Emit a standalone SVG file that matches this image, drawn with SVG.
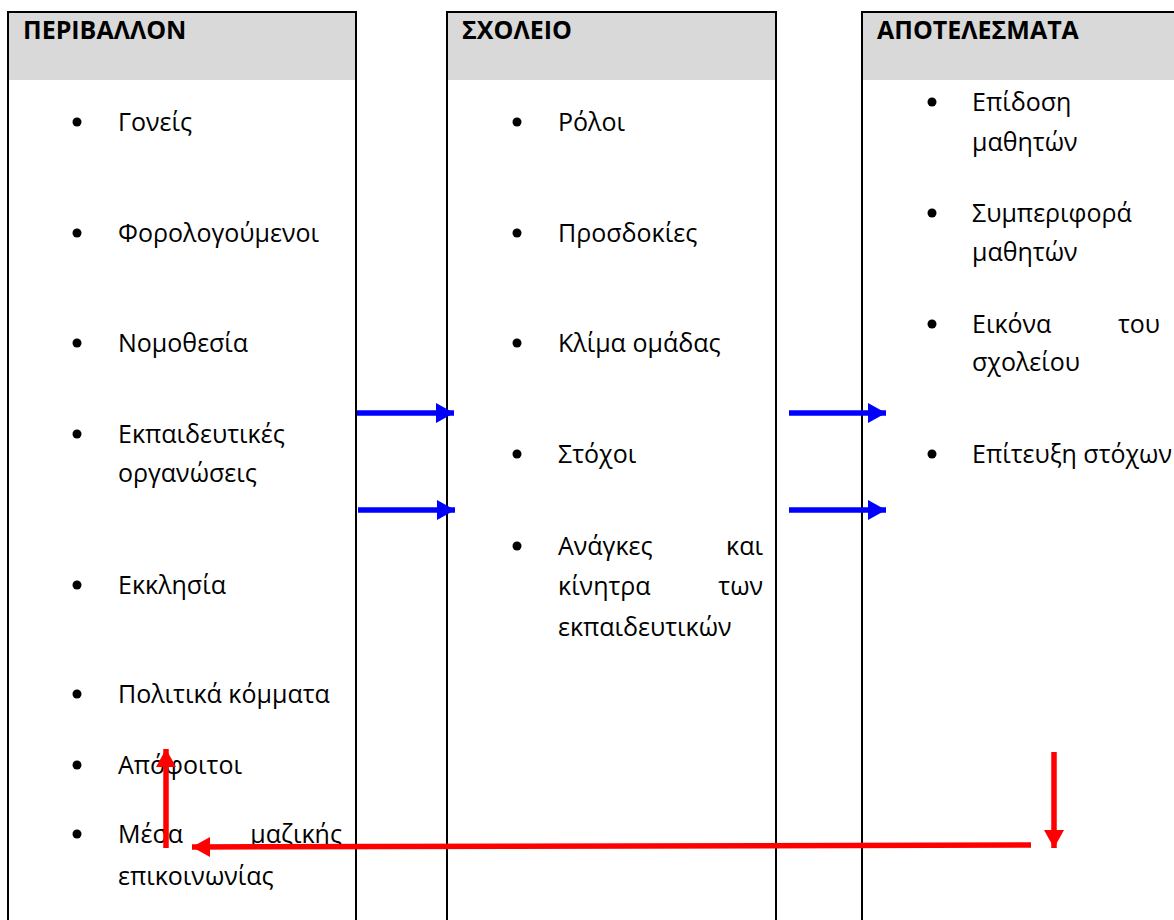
<svg xmlns="http://www.w3.org/2000/svg" width="1174" height="920" viewBox="0 0 1174 920">
<style>
.box{fill:#fff;stroke:#000;stroke-width:2}
.hd{fill:#d9d9d9}
.h{font-family:"Open Sans","Liberation Sans",sans-serif;font-weight:bold;font-size:25px;fill:#000}
.t{font-family:"Open Sans","Liberation Sans",sans-serif;font-size:25px;fill:#000}
.b{fill:#000}
.blue{stroke:#0000ff;stroke-width:5.5;fill:none}
.red{stroke:#ff0000;stroke-width:5.5;fill:none}
</style>
<defs>
<marker id="ab" markerUnits="userSpaceOnUse" markerWidth="19" markerHeight="22" refX="18" refY="11" orient="auto"><path d="M0,1 L18,11 L0,21 Z" fill="#0000ff"/></marker>
<marker id="ar" markerUnits="userSpaceOnUse" markerWidth="19" markerHeight="22" refX="18" refY="11" orient="auto"><path d="M0,1 L18,11 L0,21 Z" fill="#ff0000"/></marker>
</defs>
<rect width="1174" height="920" fill="#fff"/>
<g id="node-periballon">
<rect class="box" x="8" y="12" width="348" height="920"/>
<rect class="hd" x="9" y="13" width="346" height="67"/>
<text class="h" x="23" y="39">ΠΕΡΙΒΑΛΛΟΝ</text>
<circle class="b" cx="77" cy="122" r="4.5"/><text class="t" x="118" y="131">Γονείς</text>
<circle class="b" cx="77" cy="233" r="4.5"/><text class="t" x="118" y="242">Φορολογούμενοι</text>
<circle class="b" cx="77" cy="343" r="4.5"/><text class="t" x="118" y="352">Νομοθεσία</text>
<circle class="b" cx="77" cy="434" r="4.5"/><text class="t" x="118" y="443">Εκπαιδευτικές</text><text class="t" x="118" y="482">οργανώσεις</text>
<circle class="b" cx="77" cy="585" r="4.5"/><text class="t" x="118" y="594">Εκκλησία</text>
<circle class="b" cx="77" cy="694" r="4.5"/><text class="t" x="118" y="703">Πολιτικά κόμματα</text>
<circle class="b" cx="77" cy="765" r="4.5"/><text class="t" x="118" y="774">Απόφοιτοι</text>
<circle class="b" cx="77" cy="834" r="4.5"/><text class="t" x="118" y="843">Μέσα</text><text class="t" x="342" y="843" text-anchor="end">μαζικής</text><text class="t" x="118" y="885">επικοινωνίας</text>
</g>
<g id="node-sxoleio">
<rect class="box" x="447" y="12" width="329" height="920"/>
<rect class="hd" x="448" y="13" width="327" height="67"/>
<text class="h" x="462" y="39">ΣΧΟΛΕΙΟ</text>
<circle class="b" cx="517" cy="122" r="4.5"/><text class="t" x="558" y="131">Ρόλοι</text>
<circle class="b" cx="517" cy="233" r="4.5"/><text class="t" x="558" y="242">Προσδοκίες</text>
<circle class="b" cx="517" cy="343" r="4.5"/><text class="t" x="558" y="352">Κλίμα ομάδας</text>
<circle class="b" cx="517" cy="454" r="4.5"/><text class="t" x="558" y="463">Στόχοι</text>
<circle class="b" cx="517" cy="546" r="4.5"/><text class="t" x="558" y="555">Ανάγκες</text><text class="t" x="763" y="555" text-anchor="end">και</text>
<text class="t" x="558" y="595">κίνητρα</text><text class="t" x="763" y="595" text-anchor="end">των</text>
<text class="t" x="558" y="636">εκπαιδευτικών</text>
</g>
<g id="node-apotelesmata">
<rect class="box" x="862" y="12" width="330" height="920"/>
<rect class="hd" x="863" y="13" width="311" height="67"/>
<text class="h" x="877" y="39">ΑΠΟΤΕΛΕΣΜΑΤΑ</text>
<circle class="b" cx="932" cy="102" r="4.5"/><text class="t" x="972" y="111">Επίδοση</text><text class="t" x="972" y="151">μαθητών</text>
<circle class="b" cx="932" cy="213" r="4.5"/><text class="t" x="972" y="222">Συμπεριφορά</text><text class="t" x="972" y="261">μαθητών</text>
<circle class="b" cx="932" cy="324" r="4.5"/><text class="t" x="972" y="333">Εικόνα</text><text class="t" x="1160" y="333" text-anchor="end">του</text><text class="t" x="972" y="371">σχολείου</text>
<circle class="b" cx="932" cy="454" r="4.5"/><text class="t" x="972" y="463">Επίτευξη στόχων</text>
</g>
<g id="connectors">
<line class="blue" x1="357" y1="413" x2="454" y2="413" marker-end="url(#ab)"/>
<line class="blue" x1="358" y1="510" x2="455" y2="510" marker-end="url(#ab)"/>
<line class="blue" x1="789" y1="413" x2="886" y2="413" marker-end="url(#ab)"/>
<line class="blue" x1="789" y1="510" x2="886" y2="510" marker-end="url(#ab)"/>
<line class="red" x1="166" y1="848" x2="166" y2="749" marker-end="url(#ar)"/>
<line class="red" x1="1031" y1="845" x2="192" y2="847" marker-end="url(#ar)"/>
<line class="red" x1="1054" y1="752" x2="1054" y2="848" marker-end="url(#ar)"/>
</g>
</svg>
